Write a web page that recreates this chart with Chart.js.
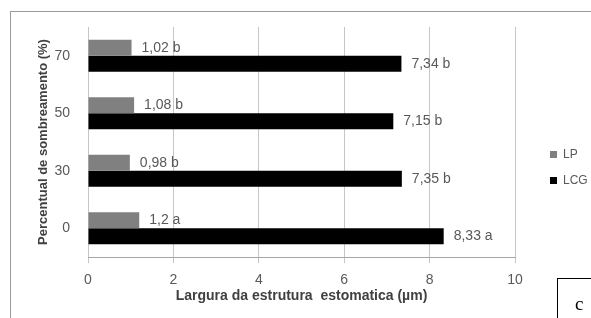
<!DOCTYPE html>
<html lang="pt">
<head>
<meta charset="UTF-8">
<title>Largura da estrutura estomatica</title>
<style>
    html, body {
        margin: 0;
        padding: 0;
        background: #fff;
        overflow: hidden;
    }
    #wrap {
        position: relative;
        width: 591px;
        height: 318px;
        overflow: hidden;
    }
    #frame {
        position: absolute;
        left: 10px;
        top: 11px;
        width: 700px;
        height: 400px;
        border: 1px solid #9a9a9a;
    }
    #chart {
        position: absolute;
        left: 0;
        top: 0;
    }
    #letra {
        position: absolute;
        left: 557px;
        top: 278px;
        width: 60px;
        height: 60px;
        border: 1px solid #000;
        font-family: "Liberation Serif", "DejaVu Serif", serif;
        font-size: 19px;
        color: #000;
        padding: 15px 0 0 17px;
        box-sizing: border-box;
        line-height: 1;
    }
</style>
</head>
<body>
<div id="wrap">
    <div id="frame"></div>
    <canvas id="chart" width="591" height="318"></canvas>
    <div id="letra">c</div>
</div>

<script src="https://cdn.jsdelivr.net/npm/chart.js"></script>
<script>
    // categorias de cima para baixo
    const sombreamento = ['70', '50', '30', '0'];
    const lpValores = [1.02, 1.08, 0.98, 1.2];
    const lpLetras = ['b', 'b', 'b', 'a'];
    const lcgValores = [7.34, 7.15, 7.35, 8.33];
    const lcgLetras = ['b', 'b', 'b', 'a'];
    const xTicks = [0, 2, 4, 6, 8, 10];

    const fonte = '"Liberation Sans", Arial, sans-serif';

    function fmt(v) {
        return String(v).replace('.', ',');
    }

    // rotulos "1,02 b" ao lado das barras
    const rotulos = {
        id: 'rotulos',
        afterDatasetsDraw(chart) {
            const ctx = chart.ctx;
            ctx.save();
            ctx.font = '14px ' + fonte;
            ctx.fillStyle = '#595959';
            ctx.textBaseline = 'middle';
            ctx.textAlign = 'left';
            chart.data.datasets.forEach((ds, i) => {
                const meta = chart.getDatasetMeta(i);
                meta.data.forEach((bar, j) => {
                    const txt = fmt(ds.data[j]) + ' ' + ds.letras[j];
                    ctx.fillText(txt, bar.x + 10, bar.y);
                });
            });
            ctx.restore();
        }
    };

    // legenda a direita
    const legenda = {
        id: 'legenda',
        afterDraw(chart) {
            const ctx = chart.ctx;
            const x = chart.chartArea.right + 35;
            ctx.save();
            ctx.font = '12px ' + fonte;
            ctx.textBaseline = 'middle';
            chart.data.datasets.forEach((ds, i) => {
                const y = 155 + i * 26;
                ctx.fillStyle = ds.backgroundColor;
                ctx.fillRect(x, y - 4, 7, 7);
                ctx.fillStyle = '#595959';
                ctx.fillText(ds.label, x + 13, y);
            });
            ctx.restore();
        }
    };

    new Chart(document.getElementById('chart'), {
        type: 'bar',
        data: {
            labels: sombreamento,
            datasets: [
                {
                    label: 'LP',
                    data: lpValores,
                    letras: lpLetras,
                    backgroundColor: '#808080',
                    borderWidth: 0
                },
                {
                    label: 'LCG',
                    data: lcgValores,
                    letras: lcgLetras,
                    backgroundColor: '#000000',
                    borderWidth: 0
                }
            ]
        },
        options: {
            indexAxis: 'y',
            responsive: false,
            animation: false,
            categoryPercentage: 0.557,
            barPercentage: 1,
            layout: {
                padding: { top: 27, right: 76, bottom: 9, left: 32 }
            },
            plugins: {
                legend: { display: false },
                tooltip: { enabled: false }
            },
            scales: {
                x: {
                    min: 0,
                    max: 10,
                    afterBuildTicks: (scale) => {
                        scale.ticks = xTicks.map(v => ({ value: v }));
                    },
                    afterFit: (scale) => {
                        scale.height = 52;
                    },
                    ticks: {
                        color: '#595959',
                        font: { family: fonte, size: 14 },
                        padding: 9,
                        maxRotation: 0
                    },
                    grid: {
                        color: '#c6c6c6',
                        tickLength: 6,
                        drawTicks: true
                    },
                    border: { color: '#a6a6a6' },
                    title: {
                        display: true,
                        text: 'Largura da estrutura  estomatica (µm)',
                        color: '#404040',
                        font: { family: fonte, size: 14, weight: 'bold' },
                        padding: { top: 4, bottom: 4 }
                    }
                },
                y: {
                    afterFit: (scale) => {
                        scale.width = 56;
                    },
                    ticks: {
                        color: '#595959',
                        font: { family: fonte, size: 14 },
                        padding: 18
                    },
                    grid: { display: false, drawTicks: false },
                    border: { display: false },
                    title: {
                        display: true,
                        text: 'Percentual de sombreamento (%)',
                        color: '#404040',
                        font: { family: fonte, size: 13, weight: 'bold' },
                        padding: { top: 4, bottom: 4 }
                    }
                }
            }
        },
        plugins: [rotulos, legenda]
    });
</script>
</body>
</html>
